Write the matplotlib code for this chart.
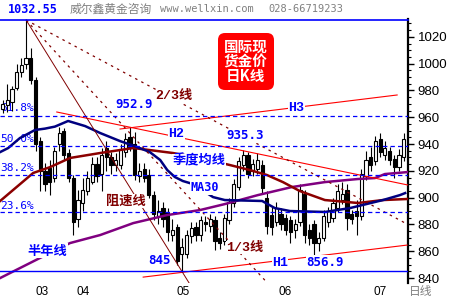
import numpy as np
import matplotlib
matplotlib.use('Agg')
import matplotlib.pyplot as plt
from matplotlib.patches import FancyBboxPatch
from matplotlib.transforms import IdentityTransform

plt.rcParams['font.family'] = ['DejaVu Sans', 'Noto Sans CJK SC']

# daily bars, index 0 = first bar on the left (Mar 2008 .. Jul 2008)
opens = [966, 969, 971, 982, 994, 1000, 1004, 988, 942, 920,
         922, 915, 940, 950, 933, 915, 884, 896, 905, 912,
         925, 918, 937, 930, 924, 924, 934, 945, 940, 916,
         921, 917, 902, 886, 892, 889, 872, 878, 858, 858,
         871, 878, 872, 882, 879, 883, 870, 868, 883, 896,
         908, 924, 932, 920, 921, 924, 900, 887, 882, 888,
         885, 883, 876, 882, 903, 876, 880, 866, 870, 882,
         885, 892, 898, 906, 888, 890, 886, 916, 930, 927,
         944, 932, 935, 929, 923, 930]
highs = [973, 985, 983, 1000, 1004, 1032.55, 1012, 990, 945, 926,
         928, 938, 953, 952, 936, 917, 906, 915, 920, 930,
         930, 937, 942, 934, 933, 940, 948, 952.9, 949, 926,
         926, 921, 905, 898, 897, 892, 884, 880, 870, 876,
         882, 882, 886, 886, 888, 886, 874, 888, 900, 914,
         930, 935.3, 934, 929, 933, 928, 905, 893, 897, 892,
         888, 886, 884, 910, 906, 880, 883, 874, 891, 893,
         900, 910, 912, 910, 891, 898, 921, 935, 938, 946,
         948, 942, 938, 932, 936, 948]
lows = [963, 964, 965, 980, 990, 996, 985, 935, 905, 905,
        902, 912, 935, 928, 912, 872, 878, 890, 902, 910,
        912, 905, 920, 918, 920, 921, 930, 935, 913, 912,
        912, 900, 883, 880, 878, 868, 868, 850, 845, 855,
        866, 868, 868, 875, 874, 861, 862, 865, 880, 893,
        906, 920, 915, 916, 918, 903, 873, 872, 879, 876,
        872, 866, 870, 879, 866, 865, 856.9, 860, 868, 878,
        882, 889, 895, 876, 880, 872, 883, 913, 920, 924,
        930, 928, 924, 915, 920, 927]
closes = [970, 973, 981, 994, 999, 1004, 988, 940, 920, 910,
          912, 935, 948, 932, 915, 882, 898, 906, 915, 925,
          916, 932, 930, 924, 928, 936, 944, 938, 917, 920,
          915, 902, 888, 890, 884, 874, 876, 853, 863, 872,
          877, 872, 883, 880, 884, 868, 866, 885, 897, 910,
          927, 932, 918, 925, 928, 907, 879, 878, 892, 880,
          876, 874, 880, 906, 872, 870, 866, 870, 886, 890,
          896, 905, 903, 885, 884, 886, 918, 928, 924, 942,
          934, 937, 928, 923, 932, 944]

month_pos = [8.4, 17.0, 38.2, 59.9, 80.0]
month_labels = ['03', '04', '05', '06', '07']

hi_price = 1032.55
lo_price = 845
fib_levels = [960.9, 938.8, 916.6, 889.3]
fib_labels = ['61.8%', '50.0%', '38.2%', '23.6%']
fib_label_y = [966.9, 943.7, 922.0, 893.7]

# moving averages (bar index, price)
ma30_idx = [-0.5, 1.2, 3.7, 6.9, 9.0, 11.1, 13.9, 17.5, 20.7, 24.9, 28.5, 31.2, 33.4,
            34.9, 36.5, 38.2, 40.4, 44.6, 47.1, 55.0, 57.7, 60.9, 68.3, 73.6,
            80.6, 84.2, 85.3]
ma30_val = [934.0, 937.0, 944.5, 950.5, 951.5, 953.0, 957.2, 953.4, 948.2, 942.2, 937.8,
            934.0, 928.1, 920.6, 915.4, 912.4, 910.1, 900.4, 898.2, 897.5, 892.2,
            890.0, 889.3, 892.2, 898.2, 901.9, 903.4]
ma60_idx = [-0.5, 6.5, 10.1, 14.3, 20.7, 27.7, 31.2, 36.1, 42.0, 48.2, 52.4, 56.0,
            59.4, 63.0, 68.3, 75.3, 80.6, 85.9]
ma60_val = [897.5, 918.4, 922.8, 929.6, 933.3, 937.0, 935.5, 933.3, 929.5, 924.3,
            920.6, 916.9, 911.6, 904.9, 898.2, 896.0, 898.2, 899.0]
ma120_idx = [-0.5, 7.9, 14.3, 20.7, 27.7, 34.9, 41.8, 47.1, 54.1, 61.3, 68.3,
             75.3, 78.9, 81.0, 85.9]
ma120_val = [840.0, 854.9, 866.1, 872.1, 881.0, 887.0, 890.7, 895.2, 901.9, 907.9,
             911.6, 913.9, 914.6, 917.6, 919.1]

# trend lines (bar index, price)
h1_idx, h1_val = [29.8, 85.7], [840.7, 864.6]
h2_idx, h2_val = [11.5, 85.9], [963.9, 909.4]
h3_idx, h3_val = [24.9, 83.6], [951.2, 976.6]
peak_idx, low_idx = 5, 38
fan_b_end = (56.2, 836.0)
fan_a_end = (85.9, 879.9)

blue = '#0000ff'
dred = '#800000'

fig = plt.figure(figsize=(4.5, 3), dpi=100)
ax = fig.add_axes([0, 1 - 283 / 300, 408 / 450, 264 / 300])
ax.set_xlim(-0.53, 85.9)
ax.set_ylim(836.3, 1033.3)

x = np.arange(len(opens))
o, h, l, c = map(np.array, (opens, highs, lows, closes))
up = c >= o
ax.vlines(x, l, h, color='black', lw=0.8, zorder=2)
ax.bar(x[up], (c - o)[up], bottom=o[up], width=0.68, color='white',
       edgecolor='black', linewidth=0.8, zorder=2.5)
ax.bar(x[~up], (o - c)[~up], bottom=c[~up], width=0.68, color='black',
       edgecolor='black', linewidth=0.8, zorder=2.5)

# fibonacci levels
for lev, lab, ly in zip(fib_levels, fib_labels, fib_label_y):
    ax.axhline(lev, color=blue, lw=0.9, ls=(0, (3.5, 2.5)), zorder=4)
    ax.text(-0.4, ly, lab, color=blue, fontsize=8, family='DejaVu Sans Mono',
            va='center', ha='left', zorder=1)
ax.axhline(hi_price, color=blue, lw=1.2, zorder=4, clip_on=False)
ax.axhline(lo_price, color=blue, lw=1.0, zorder=4)

# moving averages
ax.plot(ma120_idx, ma120_val, color='#800080', lw=1.8, zorder=3)
ax.plot(ma60_idx, ma60_val, color='#8b0000', lw=1.8, zorder=3)
ax.plot(ma30_idx, ma30_val, color='#000080', lw=1.8, zorder=3)

# channel lines
for xi, yi in ((h1_idx, h1_val), (h2_idx, h2_val), (h3_idx, h3_val)):
    ax.plot(xi, yi, color='red', lw=0.8, zorder=3.5)

# speed resistance fan from the top
slope = (lo_price - hi_price) / (low_idx - peak_idx)
end_i = peak_idx + (836.0 - hi_price) / slope
ax.plot([peak_idx, end_i], [hi_price, 836.0], color=dred, lw=0.7, zorder=3.5)
for ex, ey in (fan_b_end, fan_a_end):
    ax.plot([peak_idx, ex], [hi_price, ey], color=dred, lw=0.9,
            ls=(0, (2, 3.5)), zorder=3.5)

bg = dict(facecolor='white', edgecolor='none', pad=0.3)
mono_b = dict(family='DejaVu Sans Mono', fontweight='bold', fontsize=9)
cour_b = dict(family=['Liberation Mono', 'Noto Sans CJK SC'], fontweight='bold', fontsize=9.5)
cjk_b = dict(family='Noto Sans CJK SC', fontweight='bold', fontsize=9.5)

ax.text(27.9, 969.5, '952.9', color=blue, ha='center', va='center', bbox=bg, zorder=6, **mono_b)
ax.text(51.4, 946.0, '935.3', color=blue, ha='center', va='center', bbox=bg, zorder=6, **mono_b)
ax.text(33.2, 853.1, '845', color=blue, ha='center', va='center', bbox=bg, zorder=6, **mono_b)
ax.text(68.3, 851.9, '856.9', color=blue, ha='center', va='center', bbox=bg, zorder=6, **mono_b)
ax.text(36.8, 947.5, 'H2', color=blue, ha='center', va='center', bbox=bg, zorder=6, **cour_b)
ax.text(62.2, 967.2, 'H3', color=blue, ha='center', va='center', bbox=bg, zorder=6, **cour_b)
ax.text(58.8, 851.2, 'H1', color=blue, ha='center', va='center', bbox=bg, zorder=6, **cour_b)
ax.text(36.3, 975.5, '2/3线', color=dred, ha='center', va='center', bbox=bg, zorder=6, **cour_b)
ax.text(51.4, 862.7, '1/3线', color=dred, ha='center', va='center', bbox=bg, zorder=6, **cour_b)
ax.text(26.2, 897.5, '阻速线', color=dred, ha='center', va='center', bbox=bg, zorder=6, **cjk_b)
ax.text(41.6, 927.4, '季度均线', color=blue, ha='center', va='center', bbox=bg, zorder=6, **cjk_b)
ax.text(42.9, 907.2, 'MA30', color=blue, ha='center', va='center', bbox=bg, zorder=6,
        family='DejaVu Sans Mono', fontweight='bold', fontsize=8.5)
ax.text(9.5, 860.5, '半年线', color=blue, ha='center', va='center', bbox=bg, zorder=6, **cjk_b)

# axes styling
for side in ('left', 'top', 'bottom'):
    ax.spines[side].set_visible(False)
ax.spines['right'].set_linewidth(1.6)
ax.yaxis.tick_right()
ax.set_yticks(np.arange(840, 1021, 20))
ax.set_yticks(np.arange(840, 1031, 5), minor=True)
ax.tick_params(axis='y', which='major', length=4.3, width=1.0, pad=2.8,
               labelsize=9.5, direction='out')
ax.tick_params(axis='y', which='minor', length=2.2, width=0.8, direction='out')
for t in ax.get_yticklabels():
    t.set_family('Liberation Sans')
ax.set_xticks(month_pos)
ax.set_xticklabels(month_labels, family='Liberation Sans', fontsize=8.5)
ax.tick_params(axis='x', length=0, pad=2.5)

# header
fig.text(8 / 450, 1 - 9.5 / 300, '1032.55', color=blue, va='center', ha='left',
         family='DejaVu Sans Mono', fontweight='bold', fontsize=8.5)
fig.text(70 / 450, 1 - 9 / 300, '威尔鑫黄金咨询', color='#808080', va='center',
         family='Noto Sans CJK SC', fontsize=8.5)
fig.text(160 / 450, 1 - 9 / 300, 'www.wellxin.com', color='#808080', va='center',
         family='DejaVu Sans Mono', fontsize=7.5)
fig.text(268 / 450, 1 - 9 / 300, '028-66719233', color='#808080', va='center',
         family='DejaVu Sans Mono', fontsize=7.5)
fig.text(421 / 450, 1 - 292 / 300, '日线', color='#808080', va='center', ha='center',
         family='Noto Sans CJK SC', fontsize=8.5)

# red title badge
badge = FancyBboxPatch((218, 300 - 90), 56, 57, boxstyle='round,pad=0,rounding_size=7',
                       facecolor='#ff0000', edgecolor='none', transform=IdentityTransform())
fig.add_artist(badge)
for k, line in enumerate(['国际现', '货金价', '日K线']):
    fig.text(245.5 / 450, 1 - (46.5 + 15 * k) / 300, line, color='white', ha='center',
             va='center', family='Noto Sans CJK SC', fontweight='bold', fontsize=10.5)

fig.savefig('out.png', dpi=100)
